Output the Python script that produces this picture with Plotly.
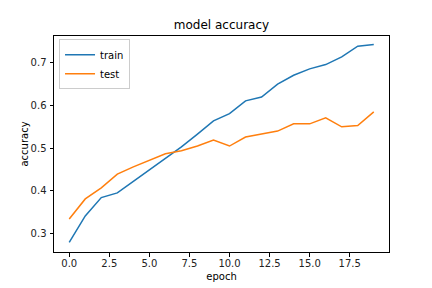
import plotly.graph_objects as go

epochs = list(range(20))
train_acc = [0.279, 0.341, 0.384, 0.395, 0.422, 0.449, 0.476, 0.503, 0.533, 0.564,
             0.581, 0.611, 0.620, 0.650, 0.671, 0.686, 0.696, 0.714, 0.739, 0.743]
test_acc = [0.334, 0.381, 0.407, 0.439, 0.456, 0.472, 0.487, 0.494, 0.505, 0.519,
            0.505, 0.526, 0.533, 0.540, 0.557, 0.557, 0.571, 0.550, 0.553, 0.585]

font = "DejaVu Sans"
fig = go.Figure()
fig.add_trace(go.Scatter(x=epochs, y=train_acc, mode="lines", name="train",
                         line=dict(color="#1f77b4", width=1.5)))
fig.add_trace(go.Scatter(x=epochs, y=test_acc, mode="lines", name="test",
                         line=dict(color="#ff7f0e", width=1.5)))

axis_common = dict(showgrid=False, zeroline=False, showline=True, linecolor="black",
                   linewidth=1, mirror=True, ticks="outside", ticklen=3.5,
                   tickcolor="black", tickwidth=0.8, automargin=False,
                   tickfont=dict(family=font, size=10, color="#222222"))
fig.update_layout(
    width=432, height=288,
    margin=dict(l=54, r=43, t=36, b=36),
    paper_bgcolor="white", plot_bgcolor="white",
    font=dict(family=font, size=10, color="black"),
    title=dict(text="model accuracy", x=0.5, xref="paper", xanchor="center",
               y=(288 - 25) / 288, yref="container", yanchor="middle",
               font=dict(family=font, size=12, color="black")),
    xaxis=dict(range=[-0.95, 19.95], dtick=2.5, tick0=0, tickformat=".1f",
               ticklabelstandoff=-2,
               title=dict(text="epoch", standoff=5, font=dict(family=font, size=10)),
               **axis_common),
    yaxis=dict(range=[0.2565, 0.763], dtick=0.1, tick0=0, tickformat=".1f",
               ticklabelstandoff=1,
               title=dict(text="accuracy", standoff=0, font=dict(family=font, size=10)),
               **axis_common),
    legend=dict(x=0.015, y=0.985, xanchor="left", yanchor="top",
                bordercolor="#cccccc", borderwidth=1, bgcolor="rgba(255,255,255,0.8)",
                font=dict(family=font, size=10), tracegroupgap=0, itemwidth=30),
    showlegend=True,
)
fig.write_html("out.html")
